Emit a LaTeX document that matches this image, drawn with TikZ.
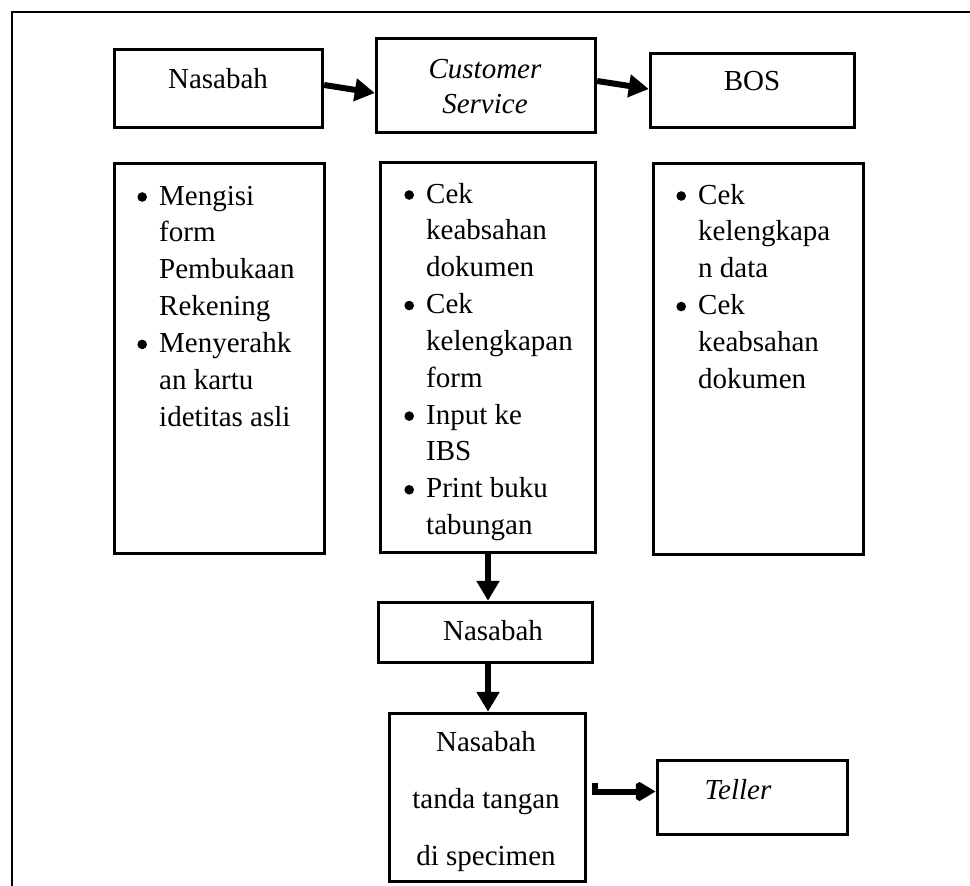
\documentclass[tikz,border=0pt]{standalone}
\usepackage{fontspec}
\setmainfont{Liberation Serif}
\usetikzlibrary{arrows.meta}
\tikzset{
  box/.style={draw=black, line width=3.4pt, rectangle, inner sep=0pt, fill=white},
  txt/.style={anchor=base, inner sep=0pt, font=\fontsize{29}{35}\selectfont},
  lst/.style={anchor=base west, inner sep=0pt},
  arr/.style={line width=6pt, -{Triangle[length=20pt,width=22pt]}},
  frame/.style={line width=2.5pt, draw=black}
}
\newcommand{\bul}{\leavevmode\llap{\tikz[baseline=0pt]{\fill[black] (0pt,8pt) circle (4.8pt);}\hspace{12.2pt}}}
\newcommand{\lstbox}[1]{\parbox[t]{220pt}{\fontsize{29}{36.85}\selectfont\raggedright #1}}
\begin{document}
\begin{tikzpicture}[x=1pt,y=-1pt]
\useasboundingbox (0,0) rectangle (970,886);
\fill[white] (0,0) rectangle (970,886);
\clip (0,0) rectangle (970,886);
\draw[frame] (975,12) -- (12,12) -- (12,892);

% header boxes
\node[box, minimum width=208pt, minimum height=78pt] (nas1) at (218.5,88.5) {};
\node[box, minimum width=219pt, minimum height=94pt] (cs) at (486,85.5) {};
\node[box, minimum width=204pt, minimum height=74pt] (bos) at (752.5,90.5) {};

\node[txt] (nas1t) at (218,88) {Nasabah};
\node[txt] (cst1) at (485,78) {\itshape Customer};
\node[txt] (cst2) at (485,113) {\itshape Service};
\node[txt] (bost) at (752,90) {BOS};

% list boxes
\node[box, minimum width=210pt, minimum height=390pt] (b1) at (219.5,358.5) {};
\node[box, minimum width=215pt, minimum height=390pt] (b2) at (488,357.5) {};
\node[box, minimum width=210pt, minimum height=391pt] (b3) at (758.5,359) {};

\node[lst] (b1t) at (159,205) {\lstbox{\bul Mengisi\\form\\Pembukaan\\Rekening\\\bul Menyerahk\\an kartu\\idetitas asli}};
\node[lst] (b2t) at (426,203) {\lstbox{\bul Cek\\keabsahan\\dokumen\\\bul Cek\\kelengkapan\\form\\\bul Input ke\\IBS\\\bul Print buku\\tabungan}};
\node[lst] (b3t) at (698,204) {\lstbox{\bul Cek\\kelengkapa\\n data\\\bul Cek\\keabsahan\\dokumen}};

% lower boxes
\node[box, minimum width=214pt, minimum height=60pt] (nas2) at (485.5,632.5) {};
\node[txt] (nas2t) at (493,640) {Nasabah};

\node[box, minimum width=196pt, minimum height=168pt] (sig) at (487.5,797.5) {};
\node[txt] (sig1) at (486,751) {Nasabah};
\node[txt] (sig2) at (486,808) {tanda tangan};
\node[txt] (sig3) at (486,865) {di specimen};

\node[box, minimum width=190pt, minimum height=74pt] (tel) at (752.5,797.5) {};
\node[txt] (telt) at (738,799) {\itshape Teller};

% connectors
\draw[arr] ([yshift=3.5pt]nas1.east) -- ([yshift=-7.5pt]cs.west);
\draw[arr] ([yshift=4.5pt]cs.east) -- ([yshift=1.5pt]bos.west);
\draw[arr] (b2.south) -- ([xshift=2.5pt]nas2.north);
\draw[arr] ([xshift=2.5pt]nas2.south) -- ([xshift=0.5pt]sig.north);
\draw[arr, miter limit=2] ([xshift=7.5pt,yshift=15pt]sig.east) -- ([xshift=7.5pt,yshift=6pt]sig.east) -- ([yshift=6pt]tel.west);
\end{tikzpicture}
\end{document}
